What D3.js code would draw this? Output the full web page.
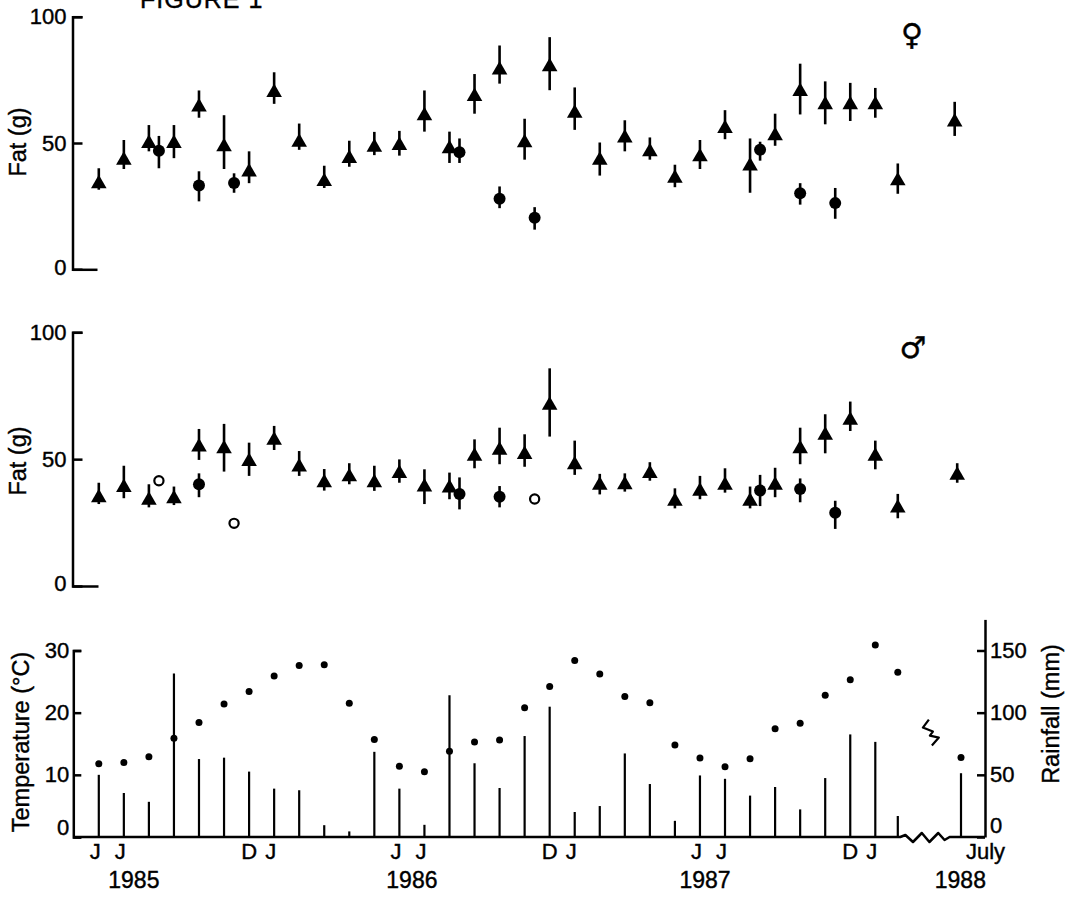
<!DOCTYPE html>
<html lang="en">
<head>
<meta charset="UTF-8" />
<title>Figure 1 - Fat, temperature and rainfall</title>
<script src="https://d3js.org/d3.v7.min.js"></script>
<style>
    body {
        margin: 0;
        background: #fff;
    }

    svg {
        display: block;
        font-family: "Liberation Sans", Arial, Helvetica, sans-serif;
    }

    svg text {
        fill: #000;
        stroke: #000;
        stroke-width: 0.4;
    }

    .axis path,
    .axis line {
        stroke: #000;
        stroke-width: 2.5;
    }

    .axis text {
        font-family: "Liberation Sans", Arial, Helvetica, sans-serif;
        font-size: 22px;
    }

    .title {
        font-size: 23.5px;
    }

    .errbar {
        stroke: #000;
        stroke-width: 2.6;
    }

    .rain {
        stroke: #000;
        stroke-width: 2.2;
    }
</style>
</head>
<body>
<div id="chart"></div>
<script>
// x values are months counted from June 1985 (= 0) to Feb 1988 (= 32);
// the axis is broken after that and July 1988 is month 37

// female, triangles with error bars
var femTriMonth = [0, 1, 2, 3, 4, 5, 6, 7, 8, 9, 10, 11, 12, 13, 14, 15, 16,
    17, 18, 19, 20, 21, 22, 23, 24, 25, 26, 27, 28, 29, 30, 31, 32, 36.5];
var femTriFat = [34.7, 44, 50.6, 50.6, 65, 49.3, 39.3, 70.8, 51.1, 35.5, 44.7, 49.1, 49.8,
    61.6, 48.5, 69.2, 79.7, 50.9, 81, 62.6, 44, 52.8, 47.3, 36.8, 45.3, 56.5, 41.7,
    53.7, 71.2, 65.9, 65.9, 65.9, 35.8, 59.1];
var femTriLo = [31.5, 39.7, 46.7, 44, 60, 39.7, 34.1, 65.5, 47.3, 32.2, 40.6, 45.2, 45,
    54.5, 42.1, 61.6, 73.5, 43.4, 70.9, 55.2, 37.1, 46.7, 43.4, 32.5, 39.7, 51.5, 30.3,
    48.9, 61.3, 57.4, 58.7, 60, 29.9, 52.8];
var femTriHi = [40, 51.2, 57.1, 57.1, 70.8, 61, 46.7, 78, 57.7, 41, 50.9, 54.4, 54.8,
    70.8, 54.5, 77.3, 88.6, 59.6, 91.9, 72, 50.2, 59, 52.2, 41.4, 51.2, 63, 51.8,
    61.6, 81.4, 74.4, 73.8, 71.8, 41.9, 66.3];

// female, filled circles
var femCircMonth = [2.4, 4, 5.4, 14.4, 16, 17.4, 26.4, 28, 29.4];
var femCircFat = [46.9, 33.2, 34.2, 46.3, 27.9, 20.4, 47.3, 30.1, 26.2];
var femCircLo = [40, 26.9, 30.3, 42.1, 24.2, 15.7, 43, 25.6, 20];
var femCircHi = [52.8, 38.8, 38, 51.8, 32.8, 24.6, 50.5, 34.1, 32.2];

// male, triangles with error bars
var maleTriMonth = [0, 1, 2, 3, 4, 5, 6, 7, 8, 9, 10, 11, 12, 13, 14, 15, 16,
    17, 18, 19, 20, 21, 22, 23, 24, 25, 26, 27, 28, 29, 30, 31, 32, 36.7];
var maleTriFat = [35.6, 39.6, 34.6, 35.2, 55.6, 54.9, 49.9, 58.2, 47.7, 41.5, 43.8, 41.5,
    45.1, 39.8, 39.4, 51.9, 54.3, 52.6, 72, 48.6, 40.5, 40.7, 45.1, 34.2, 38.1, 40.5,
    34.2, 40.5, 54.9, 60.2, 66.1, 51.9, 31.5, 44.4];
var maleTriLo = [32.3, 34.6, 31, 31.9, 49.7, 45.1, 43.4, 53.6, 43.4, 37.6, 40.1, 37.5,
    40.7, 32.3, 34.2, 46.4, 48, 47, 58.9, 43.8, 36.1, 37.2, 41.5, 30.6, 34.2, 36.8,
    30.6, 35, 48, 52.3, 61.1, 46, 26.7, 40.7];
var maleTriHi = [40.7, 47.4, 40.1, 39.2, 61.9, 63.9, 56.5, 63.1, 53.2, 46.1, 48.4, 47.4,
    49.9, 46, 44.7, 57.8, 62.4, 59.8, 85.8, 57.3, 44.2, 44.4, 48.8, 38.5, 43.4, 46.4,
    39.2, 46.6, 62.4, 67.7, 72.7, 57.3, 36.3, 48.4];

// male, filled circles
var maleCircMonth = [4, 14.4, 16, 26.4, 28, 29.4];
var maleCircFat = [40.1, 36.3, 35.2, 37.6, 38.2, 28.9];
var maleCircLo = [35, 30.2, 31, 31.5, 33, 22.5];
var maleCircHi = [44.4, 42.8, 39.4, 43.8, 42.4, 33.6];

// male, open circles (no error bars)
var maleOpenMonth = [2.4, 5.4, 17.4];
var maleOpenFat = [41.5, 24.7, 34.3];

// monthly climate
var climMonth = [0, 1, 2, 3, 4, 5, 6, 7, 8, 9, 10, 11, 12, 13, 14, 15, 16,
    17, 18, 19, 20, 21, 22, 23, 24, 25, 26, 27, 28, 29, 30, 31, 32, 37];
var temperature = [11.8, 12, 12.9, 15.9, 18.4, 21.4, 23.4, 25.9, 27.6, 27.7, 21.5, 15.7,
    11.4, 10.5, 13.8, 15.3, 15.6, 20.8, 24.2, 28.4, 26.2, 22.6, 21.6, 14.8, 12.7, 11.3,
    12.6, 17.4, 18.3, 22.8, 25.3, 30.9, 26.5, 12.8];
var rainfall = [50, 35.4, 28.3, 131.5, 62.7, 63.8, 52.6, 38.9, 37.6, 9.5, 4.5, 68.5,
    38.9, 9.8, 114, 59.3, 39.4, 81.2, 104.8, 20.1, 24.9, 67.2, 42.6, 13, 49.5, 46.8,
    33.3, 40.2, 22.2, 47.4, 82.5, 76.5, 16.9, 51.3];

// axis labels
var monthTicks = [0, 1, 6, 7, 12, 13, 18, 19, 24, 25, 30, 31, 37];
var monthLabels = ["J", "J", "D", "J", "J", "J", "D", "J", "J", "J", "D", "J", "July"];
var yearTicks = [1.4, 12.5, 24.2, 36.95];
var yearLabels = ["1985", "1986", "1987", "1988"];

function init() {
    var w = 1067;
    var h = 898;

    var svg = d3.select("#chart")
        .append("svg")
        .attr("width", w)
        .attr("height", h);

    svg.append("rect").attr("width", w).attr("height", h).attr("fill", "#fff");

    // shared time scale, broken between Feb and July 1988
    var x = d3.scaleLinear()
        .domain([0, 31, 32, 37])
        .range([98.8, 875.3, 897.8, 961]);

    var yTop = d3.scaleLinear().domain([0, 100]).range([269.3, 16.7]);
    var yMid = d3.scaleLinear().domain([0, 100]).range([586, 332.3]);
    var yTemp = d3.scaleLinear().domain([0, 30]).range([837, 650.5]);
    var yRain = d3.scaleLinear().domain([0, 175]).range([837, 619.4]);

    var tri = d3.symbol().type(d3.symbolTriangle).size(105);

    // figure label, cut off at the top edge
    svg.append("text")
        .attr("x", 140)
        .attr("y", 8)
        .attr("font-size", 25)
        .attr("letter-spacing", 1)
        .text("FIGURE 1");

    function fatAxis(y, stub) {
        var g = svg.append("g")
            .attr("class", "axis")
            .attr("transform", "translate(72.5,0)")
            .call(d3.axisLeft(y).tickValues([0, 50, 100]).tickSize(-10).tickPadding(6));
        g.attr("font-size", null).attr("font-family", null);
        // baseline stub at zero
        g.selectAll(".tick").filter(function(d) { return d === 0; })
            .select("line").attr("x2", stub);
        g.selectAll(".tick").filter(function(d) { return d === 0; })
            .select("text").attr("dy", "0.22em");
    }

    function errBars(y, months, lo, hi) {
        svg.append("g").selectAll("line")
            .data(months)
            .join("line")
            .attr("class", "errbar")
            .attr("x1", function(d) { return x(d); })
            .attr("x2", function(d) { return x(d); })
            .attr("y1", function(d, i) { return y(lo[i]); })
            .attr("y2", function(d, i) { return y(hi[i]); });
    }

    function triangles(y, months, vals) {
        svg.append("g").selectAll("path")
            .data(months)
            .join("path")
            .attr("d", tri)
            .attr("fill", "#000")
            .attr("transform", function(d, i) {
                return "translate(" + x(d) + "," + (y(vals[i]) + 2) + ")";
            });
    }

    function dots(y, months, vals, r, open) {
        svg.append("g").selectAll("circle")
            .data(months)
            .join("circle")
            .attr("cx", function(d) { return x(d); })
            .attr("cy", function(d, i) { return y(vals[i]); })
            .attr("r", r)
            .attr("fill", open ? "#fff" : "#000")
            .attr("stroke", "#000")
            .attr("stroke-width", open ? 2.2 : 0);
    }

    function fatTitle(cy) {
        svg.append("text")
            .attr("class", "title")
            .attr("transform", "translate(26," + cy + ") rotate(-90)")
            .attr("text-anchor", "middle")
            .text("Fat (g)");
    }

    // ---- top panel: females
    fatAxis(yTop, 25);
    fatTitle(142);
    errBars(yTop, femTriMonth, femTriLo, femTriHi);
    errBars(yTop, femCircMonth, femCircLo, femCircHi);
    triangles(yTop, femTriMonth, femTriFat);
    dots(yTop, femCircMonth, femCircFat, 6);
    svg.append("text")
        .attr("x", 912)
        .attr("y", 45)
        .attr("text-anchor", "middle")
        .attr("font-family", "DejaVu Sans")
        .attr("font-size", 30)
        .text("\u2640");

    // ---- middle panel: males
    fatAxis(yMid, 26);
    fatTitle(461);
    errBars(yMid, maleTriMonth, maleTriLo, maleTriHi);
    errBars(yMid, maleCircMonth, maleCircLo, maleCircHi);
    triangles(yMid, maleTriMonth, maleTriFat);
    dots(yMid, maleCircMonth, maleCircFat, 6);
    dots(yMid, maleOpenMonth, maleOpenFat, 4.6, true);
    svg.append("text")
        .attr("x", 913)
        .attr("y", 358)
        .attr("text-anchor", "middle")
        .attr("font-family", "DejaVu Sans")
        .attr("font-size", 30)
        .text("\u2642");

    // ---- bottom panel: temperature and rainfall
    svg.append("g").selectAll("line")
        .data(climMonth)
        .join("line")
        .attr("class", "rain")
        .attr("x1", function(d) { return x(d); })
        .attr("x2", function(d) { return x(d); })
        .attr("y1", yRain(0))
        .attr("y2", function(d, i) { return yRain(rainfall[i]); });

    svg.append("g").selectAll("circle")
        .data(climMonth)
        .join("circle")
        .attr("cx", function(d) { return x(d); })
        .attr("cy", function(d, i) { return yTemp(temperature[i]); })
        .attr("r", 3.5)
        .attr("fill", "#000");

    var gl = svg.append("g")
        .attr("class", "axis")
        .attr("transform", "translate(73.3,0)")
        .call(d3.axisLeft(yTemp).tickValues([0, 10, 20, 30]).tickSize(-8).tickPadding(4));
    gl.attr("font-size", null).attr("font-family", null);
    gl.selectAll(".tick").filter(function(d) { return d === 0; })
        .select("text").attr("dy", "-0.12em");

    var gr = svg.append("g")
        .attr("class", "axis")
        .attr("transform", "translate(985,0)")
        .call(d3.axisRight(yRain).tickValues([0, 50, 100, 150]).tickSize(-8).tickSizeOuter(0).tickPadding(5));
    gr.attr("font-size", null).attr("font-family", null);
    gr.selectAll(".tick").filter(function(d) { return d === 0; })
        .select("text").attr("dy", "-0.2em");

    // baseline with the zigzag break between Feb and July 1988
    var zigMonth = [32.2, 32.6, 33.2, 33.9, 34.5, 35.2, 35.7, 36.1];
    var zigOff = [0, -2, 5, -4, 5, -4, 3, 0];
    var base = [[73.3, yRain(0)]];
    zigMonth.forEach(function(m, i) { base.push([x(m), yRain(0) + zigOff[i]]); });
    base.push([985, yRain(0)]);
    svg.append("path")
        .attr("d", d3.line()(base))
        .attr("fill", "none")
        .attr("stroke", "#000")
        .attr("stroke-width", 2.5)
        .attr("stroke-linejoin", "round");

    // break mark in the temperature series
    var bx = x(34.3), by = yTemp(16.8);
    svg.append("path")
        .attr("d", d3.line()([[bx + 2, by - 13], [bx - 4, by - 5], [bx + 6, by - 1],
            [bx + 3, by + 3], [bx + 12, by + 5], [bx + 5, by + 13]]))
        .attr("fill", "none")
        .attr("stroke", "#000")
        .attr("stroke-width", 2.2)
        .attr("stroke-linejoin", "round");

    // month and year labels
    svg.append("g").selectAll("text")
        .data(monthTicks)
        .join("text")
        .attr("x", function(d, i) {
            var l = monthLabels[i];
            return x(d) + (l === "J" ? -3.5 : l === "D" ? 0 : 5);
        })
        .attr("y", 859)
        .attr("font-size", 22)
        .attr("text-anchor", function(d, i) { return monthLabels[i].length > 1 ? "start" : "middle"; })
        .text(function(d, i) { return monthLabels[i]; });

    svg.append("g").selectAll("text")
        .data(yearTicks)
        .join("text")
        .attr("x", function(d) { return x(d); })
        .attr("y", 888)
        .attr("font-size", 23)
        .attr("text-anchor", "middle")
        .text(function(d, i) { return yearLabels[i]; });

    svg.append("text")
        .attr("class", "title")
        .attr("transform", "translate(29,742) rotate(-90)")
        .attr("text-anchor", "middle")
        .text("Temperature (\u00b0C)");

    svg.append("text")
        .attr("class", "title")
        .attr("transform", "translate(1059,714) rotate(-90)")
        .attr("text-anchor", "middle")
        .text("Rainfall (mm)");
}

init();
</script>
</body>
</html>
